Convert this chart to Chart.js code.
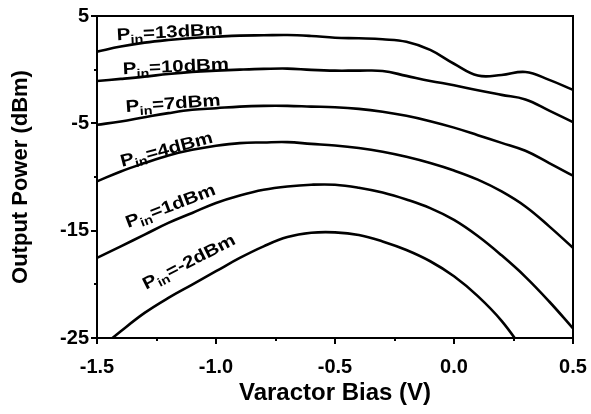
<!DOCTYPE html>
<html>
<head>
<meta charset="utf-8">
<script src="https://cdn.jsdelivr.net/npm/chart.js@4/dist/chart.umd.min.js"></script>
<style>
  html, body { margin: 0; padding: 0; background: #fff; }
  #graph { display: block; }
</style>
</head>
<body>
<canvas id="graph" width="591" height="414"></canvas>
<script>
// varactor bias (V)
var bias = [-1.5, -1.4, -1.3, -1.2, -1.1, -1.0, -0.9, -0.8, -0.7, -0.6, -0.5,
            -0.4, -0.3, -0.2, -0.1, 0.0, 0.1, 0.2, 0.3, 0.4, 0.5];

// output power (dBm) for each input power
var pin13 = [1.68, 2.15, 2.52, 2.77, 2.95, 3.07, 3.17, 3.2, 3.23, 3.14, 2.98,
             2.92, 2.83, 2.6, 1.84, 0.55, -0.55, -0.5, -0.22, -0.95, -1.88];
var pin10 = [-1.05, -0.86, -0.65, -0.4, -0.21, -0.09, 0.0, 0.07, 0.1, -0.02, -0.09,
             -0.09, -0.12, -0.58, -1.05, -1.45, -1.92, -2.35, -2.77, -3.81, -4.89];
var pin7 = [-5.14, -4.83, -4.43, -4.05, -3.74, -3.59, -3.44, -3.37, -3.37, -3.44, -3.5,
            -3.65, -3.92, -4.3, -4.8, -5.4, -6.1, -6.82, -7.56, -8.7, -9.88];
var pin4 = [-10.41, -9.48, -8.7, -7.99, -7.47, -7.09, -6.84, -6.78, -6.75, -6.91, -7.06,
            -7.3, -7.65, -8.12, -8.7, -9.4, -10.25, -11.35, -12.75, -14.6, -16.6];
var pin1 = [-17.54, -16.46, -15.37, -14.28, -13.35, -12.42, -11.72, -11.19, -10.88, -10.72, -10.72,
            -11.0, -11.45, -12.1, -12.9, -14.0, -15.5, -17.3, -19.3, -21.6, -24.1];
var pinM2 = [-26.2, -24.37, -22.66, -21.26, -20.02, -18.78, -17.54, -16.46, -15.6, -15.2, -15.16,
             -15.4, -16.0, -16.8, -17.85, -19.25, -21.1, -23.4, -26.4, null, null];

var seriesNames = ["13dBm", "10dBm", "7dBm", "4dBm", "1dBm", "-2dBm"];
var seriesData = [pin13, pin10, pin7, pin4, pin1, pinM2];

// axis ticks
var xTicks = [-1.5, -1.0, -0.5, 0.0, 0.5];
var xMinor = [-1.25, -0.75, -0.25, 0.25];
var yTicks = [-25, -15, -5, 5];
var yMinor = [-20, -10, 0];

var fontFam = "'Liberation Sans', Arial, sans-serif";

// where the curve labels sit (value coords of the baseline start) and their tilt
var labelSpots = [
    { x: -1.416, y: 2.75, rot: -3 },
    { x: -1.391, y: -0.42, rot: -2.5 },
    { x: -1.378, y: -3.95, rot: -4 },
    { x: -1.395, y: -9.05, rot: -15 },
    { x: -1.37, y: -14.75, rot: -21 },
    { x: -1.294, y: -20.5, rot: -27 }
];

function toPoints(ys) {
    return bias.map(function(b, i) { return { x: b, y: ys[i] }; });
}

// frame, tick marks and curve labels
var decorPlugin = {
    id: "decor",
    afterDatasetsDraw: function(chart) {
        var ctx = chart.ctx;
        var a = chart.chartArea;
        var sx = chart.scales.x, sy = chart.scales.y;
        ctx.save();
        ctx.strokeStyle = "#000";
        ctx.lineWidth = 2;
        ctx.strokeRect(a.left, a.top, a.right - a.left, a.bottom - a.top);

        ctx.beginPath();
        yTicks.forEach(function(v) {
            var p = Math.round(sy.getPixelForValue(v));
            ctx.moveTo(a.left - 6, p); ctx.lineTo(a.left, p);
        });
        yMinor.forEach(function(v) {
            var p = Math.round(sy.getPixelForValue(v));
            ctx.moveTo(a.left - 3, p); ctx.lineTo(a.left, p);
        });
        xTicks.forEach(function(v) {
            var p = Math.round(sx.getPixelForValue(v));
            ctx.moveTo(p, a.bottom); ctx.lineTo(p, a.bottom + 6);
        });
        xMinor.forEach(function(v) {
            var p = Math.round(sx.getPixelForValue(v));
            ctx.moveTo(p, a.bottom); ctx.lineTo(p, a.bottom + 3);
        });
        ctx.stroke();

        ctx.fillStyle = "#000";
        ctx.textBaseline = "alphabetic";
        seriesNames.forEach(function(name, i) {
            var s = labelSpots[i];
            ctx.save();
            ctx.translate(sx.getPixelForValue(s.x), sy.getPixelForValue(s.y));
            ctx.rotate(s.rot * Math.PI / 180);
            ctx.scale(1.2, 1);
            ctx.font = "bold 17px " + fontFam;
            ctx.fillText("P", 0, 0);
            var w = ctx.measureText("P").width;
            ctx.font = "bold 12px " + fontFam;
            ctx.fillText("in", w, 4);
            w += ctx.measureText("in").width;
            ctx.font = "bold 17px " + fontFam;
            ctx.fillText("=" + name, w, 0);
            ctx.restore();
        });
        ctx.restore();
    }
};

var chart = new Chart(document.getElementById("graph").getContext("2d"), {
    type: "line",
    data: {
        datasets: seriesData.map(function(ys, i) {
            return {
                label: "Pin=" + seriesNames[i],
                data: toPoints(ys),
                borderColor: "#000",
                borderWidth: 2.6,
                pointRadius: 0,
                tension: 0.4,
                fill: false
            };
        })
    },
    options: {
        responsive: false,
        devicePixelRatio: 1,
        animation: false,
        layout: { padding: { top: 16, right: 18, left: 0, bottom: 0 } },
        plugins: { legend: { display: false }, tooltip: { enabled: false } },
        scales: {
            x: {
                type: "linear",
                min: -1.5,
                max: 0.5,
                grid: { display: false, drawTicks: false },
                border: { display: false },
                afterBuildTicks: function(s) { s.ticks = xTicks.map(function(v) { return { value: v }; }); },
                afterFit: function(s) { s.height = 76; s.paddingLeft = 0; s.paddingRight = 0; },
                ticks: {
                    padding: 17,
                    color: "#000",
                    font: { family: fontFam, size: 20, weight: "bold" },
                    callback: function(v) { return Number(v).toFixed(1); }
                },
                title: {
                    display: true,
                    text: "Varactor Bias (V)",
                    color: "#000",
                    font: { family: fontFam, size: 24, weight: "bold" },
                    padding: { top: 0, bottom: 6 }
                }
            },
            y: {
                min: -25,
                max: 5,
                grid: { display: false, drawTicks: false },
                border: { display: false },
                afterBuildTicks: function(s) { s.ticks = yTicks.map(function(v) { return { value: v }; }); },
                afterFit: function(s) { s.width = 97; s.paddingTop = 0; s.paddingBottom = 0; },
                ticks: {
                    padding: 8,
                    color: "#000",
                    font: { family: fontFam, size: 20, weight: "bold" }
                },
                title: {
                    display: true,
                    text: "Output Power (dBm)",
                    color: "#000",
                    font: { family: fontFam, size: 22, weight: "bold" },
                    padding: { top: 8, bottom: 0 }
                }
            }
        }
    },
    plugins: [decorPlugin]
});
</script>
</body>
</html>
